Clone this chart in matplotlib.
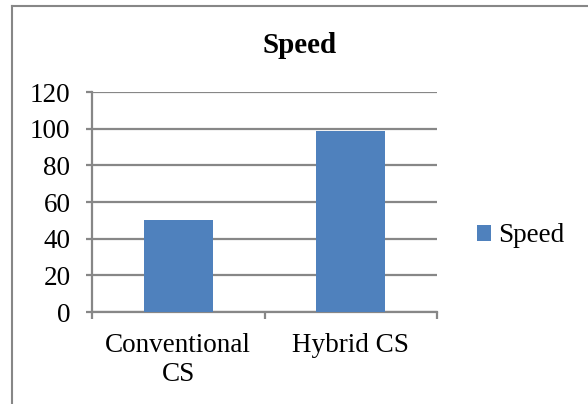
import matplotlib
matplotlib.use("Agg")
import matplotlib.pyplot as plt
from matplotlib.lines import Line2D
from matplotlib.ticker import FixedLocator

categories = ["Conventional\nCS", "Hybrid CS"]
speed = [50, 99]
yticks = [0, 20, 40, 60, 80, 100, 120]
series_name = "Speed"
title = "Speed"

W, H = 588, 404
plt.rcParams['font.family'] = ['Liberation Serif', 'DejaVu Serif']
fig = plt.figure(figsize=(W / 100, H / 100), dpi=100)
ax = fig.add_axes([92 / W, 1 - 312 / H, (437 - 92) / W, (312 - 92) / H])

grey = "#878787"
blue = "#4F81BD"

x = list(range(len(categories)))
ax.bar(x, speed, width=0.4, color=blue, zorder=3, label=series_name)
ax.set_xlim(-0.5, len(categories) - 0.5)
ax.set_ylim(0, 120)
ax.set_yticks(yticks)
ax.yaxis.grid(True, color=grey, lw=1.6, zorder=0)
ax.set_axisbelow(True)

for s in ["top", "right"]:
    ax.spines[s].set_visible(False)
for s in ["left", "bottom"]:
    ax.spines[s].set_color(grey)
    ax.spines[s].set_linewidth(1.6)

ax.set_xticks(x)
ax.set_xticklabels(categories, fontsize=19.5, linespacing=1.2)
ax.xaxis.set_minor_locator(FixedLocator([-0.5 + i for i in range(len(categories) + 1)]))
ax.tick_params(axis='x', which='major', length=0, pad=15)
ax.tick_params(axis='x', which='minor', length=5, width=1.6, color=grey, direction='out')
ax.tick_params(axis='y', length=4.5, width=1.6, color=grey, labelsize=19.5, pad=11)

fig.text(300 / W, 1 - 53 / H, title, ha='center', va='baseline',
         fontsize=21, fontweight='bold')

fig.legend(loc='center left', bbox_to_anchor=(477 / W, 1 - 236 / H), frameon=False,
           fontsize=19.5, handlelength=0.52, handleheight=0.52, handletextpad=0.25,
           borderpad=0, borderaxespad=0)

fig.add_artist(Line2D([12 / W, 12 / W], [0, 1 - 6 / H], color=grey, lw=1.5))
fig.add_artist(Line2D([12 / W, 1], [1 - 6 / H, 1 - 6 / H], color=grey, lw=1.5))

fig.savefig("out.png", dpi=100)
